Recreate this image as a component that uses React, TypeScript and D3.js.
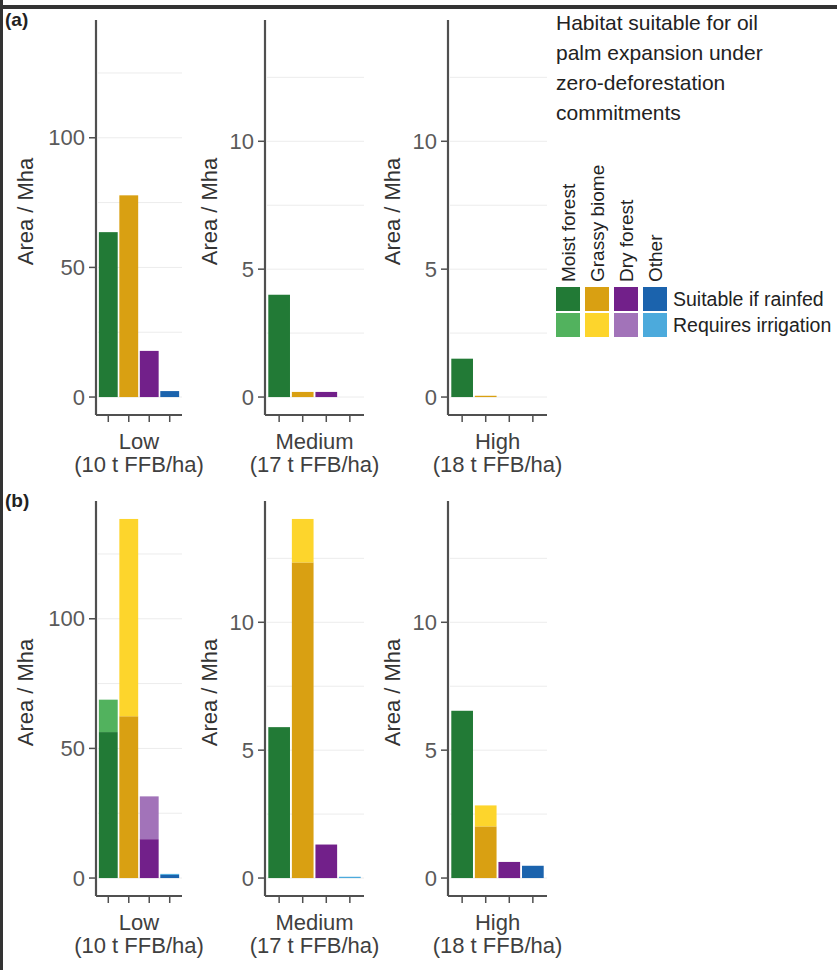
import React from "react";
import * as d3 from "d3";

const categories = ["Moist forest", "Grassy biome", "Dry forest", "Other"];
const yieldLevels = ["Low", "Medium", "High"];
const yieldSub = ["(10 t FFB/ha)", "(17 t FFB/ha)", "(18 t FFB/ha)"];
const rows = ["(a)", "(b)"];

// panel (a): rainfed / irrigation per yield level
const aRainfedLow = [63.6, 77.8, 17.8, 2.3];
const aRainfedMedium = [4.0, 0.2, 0.2, 0];
const aRainfedHigh = [1.5, 0.05, 0, 0];
const aIrrigLow = [0, 0, 0, 0];
const aIrrigMedium = [0, 0, 0, 0];
const aIrrigHigh = [0, 0, 0, 0];

// panel (b)
const bRainfedLow = [56.3, 62.4, 15.0, 1.2];
const bRainfedMedium = [5.9, 12.34, 1.31, 0];
const bRainfedHigh = [6.54, 2.02, 0.63, 0.48];
const bIrrigLow = [12.5, 76.1, 16.5, 0.4];
const bIrrigMedium = [0, 1.7, 0, 0.05];
const bIrrigHigh = [0, 0.82, 0, 0];

const lowTicks = [0, 50, 100];
const lowMinor = [25, 75, 125];
const otherTicks = [0, 5, 10];
const otherMinor = [2.5, 7.5, 12.5];
const lowMax = 138.5;
const otherMax = 14.04;

const rainfedColors = ["#227a36", "#d9a012", "#72208a", "#1b63ad"];
const irrigColors = ["#52b25e", "#fdd52c", "#a273b9", "#4caadc"];

const legendTitle = ["Habitat suitable for oil", "palm expansion under", "zero-deforestation", "commitments"];
const legendRows = ["Suitable if rainfed", "Requires irrigation"];

const FONT = "'Liberation Sans', Arial, Helvetica, sans-serif";

const panelX = [
  [96, 182],
  [265, 364],
  [448, 547],
];
const rowTop = [20, 501];
const PANEL_H = 395;

function Panel({ rowIdx, colIdx, rainfed, irrig }) {
  const [x0, x1] = panelX[colIdx];
  const top = rowTop[rowIdx];
  const bottom = top + PANEL_H;
  const max = colIdx === 0 ? lowMax : otherMax;
  const y = d3.scaleLinear().domain([-0.05 * max, 1.05 * max]).range([bottom, top]);
  const x = d3.scaleBand().domain(categories).range([x0, x1]).paddingInner(0.08).paddingOuter(0.14);
  const ticks = colIdx === 0 ? lowTicks : otherTicks;
  const minor = colIdx === 0 ? lowMinor : otherMinor;
  const axisCol = "#505050";
  const cx = (x0 + x1) / 2;
  return (
    <g>
      {[...ticks, ...minor].map((t) => (
        <line key={"g" + t} x1={x0 + 2} x2={x1} y1={y(t)} y2={y(t)} stroke="#ececec" strokeWidth={1} />
      ))}
      {categories.map((c, i) => {
        const r = rainfed[i];
        const ir = irrig[i];
        return (
          <g key={c}>
            {r > 0 && (
              <rect x={x(c)} width={x.bandwidth()} y={y(r)} height={y(0) - y(r)} fill={rainfedColors[i]} />
            )}
            {ir > 0 && (
              <rect x={x(c)} width={x.bandwidth()} y={y(r + ir)} height={y(r) - y(r + ir)} fill={irrigColors[i]} />
            )}
          </g>
        );
      })}
      <line x1={x0} x2={x0} y1={top} y2={bottom} stroke={axisCol} strokeWidth={2.2} />
      <line x1={x0} x2={x1} y1={bottom} y2={bottom} stroke={axisCol} strokeWidth={2.2} />
      {ticks.map((t) => (
        <g key={"t" + t}>
          <line x1={x0 - 7} x2={x0} y1={y(t)} y2={y(t)} stroke={axisCol} strokeWidth={1.5} />
          <text x={x0 - 11} y={y(t)} dy="0.35em" textAnchor="end" fontSize={22} fill="#5a5a5a" fontFamily={FONT}>
            {t}
          </text>
        </g>
      ))}
      {categories.map((c) => (
        <line key={"xt" + c} x1={x(c) + x.bandwidth() / 2} x2={x(c) + x.bandwidth() / 2} y1={bottom} y2={bottom + 7} stroke={axisCol} strokeWidth={1.5} />
      ))}
      <text x={cx} y={bottom + 34} textAnchor="middle" fontSize={22} fill="#404040" fontFamily={FONT}>
        {yieldLevels[colIdx]}
      </text>
      <text x={cx} y={bottom + 57} textAnchor="middle" fontSize={22} fill="#404040" fontFamily={FONT}>
        {yieldSub[colIdx]}
      </text>
      <text
        transform={`translate(${x0 - (colIdx === 0 ? 63 : 48)},${(top + bottom) / 2 - 6}) rotate(-90)`}
        textAnchor="middle"
        fontSize={22}
        fill="#333"
        fontFamily={FONT}
      >
        Area / Mha
      </text>
    </g>
  );
}

export default function App() {
  const data = [
    [
      [aRainfedLow, aIrrigLow],
      [aRainfedMedium, aIrrigMedium],
      [aRainfedHigh, aIrrigHigh],
    ],
    [
      [bRainfedLow, bIrrigLow],
      [bRainfedMedium, bIrrigMedium],
      [bRainfedHigh, bIrrigHigh],
    ],
  ];
  const sqX = [556, 585, 614, 643];
  const sq = 24;
  return (
    <svg width={837} height={970} style={{ position: "absolute", left: 0, top: 0, background: "#fff" }}>
      <rect x={0} y={0} width={837} height={970} fill="#fff" />
      {data.map((row, ri) =>
        row.map((cell, ci) => <Panel key={ri + "-" + ci} rowIdx={ri} colIdx={ci} rainfed={cell[0]} irrig={cell[1]} />)
      )}
      {rows.map((r, i) => (
        <text key={r} x={5} y={i === 0 ? 26 : 507} fontSize={19} fontWeight="bold" fill="#222" fontFamily={FONT}>
          {r}
        </text>
      ))}
      {legendTitle.map((t, i) => (
        <text key={t} x={556} y={30 + i * 30} fontSize={21} fill="#222" fontFamily={FONT}>
          {t}
        </text>
      ))}
      {categories.map((c, i) => (
        <text
          key={"lc" + c}
          transform={`translate(${sqX[i] + sq / 2 + 7},${282}) rotate(-90)`}
          fontSize={19}
          fill="#222"
          fontFamily={FONT}
        >
          {c}
        </text>
      ))}
      {categories.map((c, i) => (
        <g key={"sq" + c}>
          <rect x={sqX[i]} y={287} width={sq} height={sq} fill={rainfedColors[i]} />
          <rect x={sqX[i]} y={313} width={sq} height={sq} fill={irrigColors[i]} />
        </g>
      ))}
      {legendRows.map((t, i) => (
        <text key={t} x={673} y={306 + i * 26} fontSize={19.5} fill="#222" fontFamily={FONT}>
          {t}
        </text>
      ))}
      <rect x={0} y={5} width={837} height={4} fill="#333" />
      <rect x={0} y={0} width={3} height={970} fill="#333" />
    </svg>
  );
}
